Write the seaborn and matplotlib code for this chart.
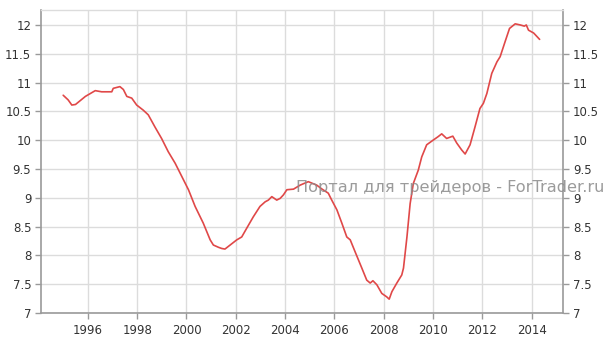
import matplotlib
matplotlib.use("Agg")
import matplotlib.pyplot as plt
import seaborn as sns
import pandas as pd

years = [1995.0, 1995.2, 1995.35, 1995.5, 1995.7, 1995.9, 1996.1, 1996.3, 1996.56, 1996.8, 1996.97,
         1997.03, 1997.3, 1997.44, 1997.58, 1997.78, 1997.98, 1998.25, 1998.45, 1998.72, 1998.99,
         1999.26, 1999.54, 1999.81, 2000.08, 2000.35, 2000.68, 2000.96, 2001.09, 2001.3, 2001.43,
         2001.56, 2001.77, 2002.04, 2002.24, 2002.44, 2002.71, 2002.98, 2003.19, 2003.32, 2003.46,
         2003.66, 2003.8, 2003.93, 2004.07, 2004.34, 2004.61, 2004.94, 2005.28, 2005.5, 2005.75,
         2005.89, 2006.1, 2006.3, 2006.5, 2006.64, 2006.84, 2007.11, 2007.31, 2007.45, 2007.56,
         2007.72, 2007.92, 2008.12, 2008.22, 2008.33, 2008.53, 2008.73, 2008.8, 2008.94, 2009.07,
         2009.2, 2009.4, 2009.54, 2009.74, 2010.0, 2010.2, 2010.35, 2010.55, 2010.8, 2010.96,
         2011.16, 2011.3, 2011.5, 2011.7, 2011.9, 2012.04, 2012.18, 2012.38, 2012.59, 2012.72,
         2012.92, 2013.1, 2013.33, 2013.54, 2013.7, 2013.78, 2013.87, 2014.08, 2014.32]
values = [10.78, 10.70, 10.61, 10.62, 10.69, 10.76, 10.81, 10.86, 10.84, 10.84, 10.84,
          10.90, 10.93, 10.88, 10.76, 10.73, 10.61, 10.52, 10.44, 10.23, 10.03,
          9.80, 9.60, 9.37, 9.14, 8.85, 8.56, 8.27, 8.18, 8.14, 8.12,
          8.11, 8.18, 8.27, 8.32, 8.47, 8.67, 8.85, 8.93, 8.96, 9.02,
          8.96, 8.99, 9.05, 9.14, 9.15, 9.22, 9.28, 9.22, 9.15, 9.08,
          8.96, 8.79, 8.56, 8.32, 8.27, 8.06, 7.78, 7.57, 7.52, 7.56,
          7.49, 7.34, 7.28, 7.24, 7.37, 7.52, 7.66, 7.78, 8.32, 8.90,
          9.25, 9.48, 9.71, 9.92, 10.00, 10.06, 10.11, 10.03, 10.07, 9.95,
          9.83, 9.76, 9.92, 10.23, 10.55, 10.64, 10.81, 11.16, 11.36, 11.45,
          11.71, 11.94, 12.02, 12.00, 11.98, 12.00, 11.91, 11.86, 11.75]
x_ticks = [1996, 1998, 2000, 2002, 2004, 2006, 2008, 2010, 2012, 2014]
y_ticks = [7, 7.5, 8, 8.5, 9, 9.5, 10, 10.5, 11, 11.5, 12]
y_tick_labels = ["7", "7.5", "8", "8.5", "9", "9.5", "10", "10.5", "11", "11.5", "12"]
watermark = "Портал для трейдеров - ForTrader.ru"

df = pd.DataFrame({"year": years, "value": values})

sns.set_theme(style="white")
plt.rcParams["font.family"] = ["DejaVu Sans"]

fig = plt.figure(figsize=(6.11, 3.56), dpi=100)
ax = fig.add_axes([0.0671, 0.1208, 0.8544, 0.8511])

sns.lineplot(data=df, x="year", y="value", ax=ax, color="#e04848", linewidth=1.2)

ax.set_xlim(1994.1, 2015.27)
ax.set_ylim(7, 12.26)
ax.set_xticks(x_ticks)
ax.set_xticklabels([str(t) for t in x_ticks])
ax.set_yticks(y_ticks)
ax.set_yticklabels(y_tick_labels)
ax.set_xlabel("")
ax.set_ylabel("")
ax.grid(True, color="#dcdcdc", linewidth=1.0)
ax.set_axisbelow(True)

for side in ["left", "bottom", "right"]:
    ax.spines[side].set_visible(True)
    ax.spines[side].set_color("#9a9a9a")
    ax.spines[side].set_linewidth(1.2)
ax.spines["top"].set_visible(True)
ax.spines["top"].set_color("#dcdcdc")
ax.spines["top"].set_linewidth(1.0)

ax.tick_params(axis="y", which="both", left=True, right=True, labelleft=True, labelright=True,
               direction="out", length=4, width=1, color="#9a9a9a", labelsize=8.5,
               labelcolor="#333333", pad=3)
ax.tick_params(axis="x", bottom=True, direction="out", length=4, width=1, color="#9a9a9a",
               labelsize=8.5, labelcolor="#333333", pad=4)

fig.text(0.485, 0.472, watermark, fontsize=11.6, color="#8a8a8a", alpha=0.85,
         ha="left", va="center")

fig.savefig("out.png", dpi=100)
